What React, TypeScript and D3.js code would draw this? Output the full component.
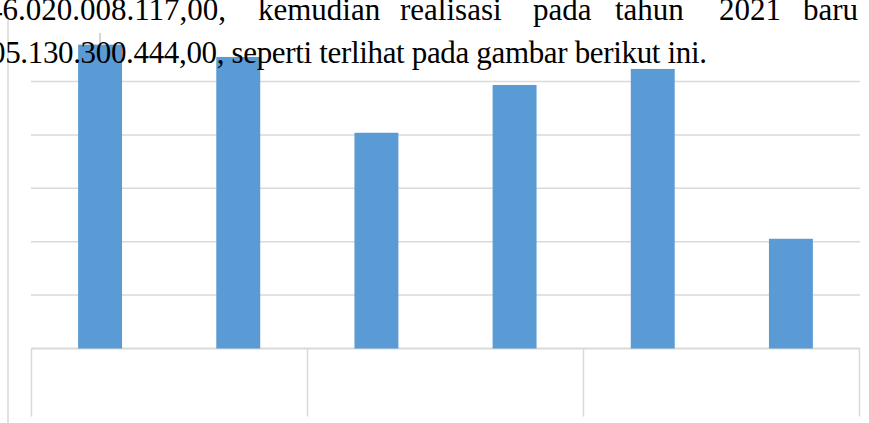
import React from "react";
import * as d3 from "d3";

const categories = ["A1", "A2", "B1", "B2", "C1", "C2"];
const groups = ["A", "B", "C"];
const values = [113.8, 109.2, 80.8, 98.7, 104.7, 41.1];
const gridTicks = [0, 20, 40, 60, 80, 100];
const line1Words = ["kemudian", "realisasi", "pada", "tahun", "2021"];
const line1First = "46.020.008.117,00,";
const line1Last = "baru";
const line2Text = "05.130.300.444,00, seperti terlihat pada gambar berikut ini.";

const W = 869;
const H = 423;

export default function App() {
  const x = d3
    .scaleBand<string>()
    .domain(categories)
    .range([31, 860])
    .paddingInner(0.682)
    .paddingOuter(0.341);
  const y = d3.scaleLinear().domain([0, 120]).range([348.5, 28.1]);
  const gx = d3.scaleBand<string>().domain(groups).range([31.5, 859.5]);

  const wordX = [258, 400, 533, 615, 719];
  const grid = "#d9d9d9";

  return (
    <svg
      width={W}
      height={H}
      style={{ position: "absolute", left: 0, top: 0, background: "#fff" }}
    >
      <line x1={8} x2={8} y1={20} y2={H} stroke={grid} strokeWidth={1.5} />
      {gridTicks.map((t) => (
        <line
          key={t}
          x1={31}
          x2={860}
          y1={y(t)}
          y2={y(t)}
          stroke={grid}
          strokeWidth={t === 0 ? 2 : 1.5}
        />
      ))}
      {groups.map((g) => (
        <line
          key={g}
          x1={gx(g)!}
          x2={gx(g)!}
          y1={y(0)}
          y2={416.5}
          stroke={grid}
          strokeWidth={1.5}
        />
      ))}
      <line
        x1={gx.range()[1]}
        x2={gx.range()[1]}
        y1={y(0)}
        y2={416.5}
        stroke={grid}
        strokeWidth={1.5}
      />
      <line x1={100} x2={100} y1={33} y2={43} stroke="#c8c8c8" strokeWidth={1.5} />
      {categories.map((c, i) => (
        <rect
          key={c}
          x={x(c)!}
          y={y(values[i])}
          width={x.bandwidth()}
          height={y(0) - y(values[i])}
          fill="#5b9bd5"
        />
      ))}
      <g fontFamily="'Liberation Serif', 'Times New Roman', serif" fontSize={31} fill="#000">
        <text x={226} y={20} textAnchor="end">
          {line1First}
        </text>
        {line1Words.map((w, i) => (
          <text key={w} x={wordX[i]} y={20}>
            {w}
          </text>
        ))}
        <text x={858} y={20} textAnchor="end">
          {line1Last}
        </text>
        <text x={-10} y={63} textLength={717} lengthAdjust="spacing">
          {line2Text}
        </text>
      </g>
    </svg>
  );
}
